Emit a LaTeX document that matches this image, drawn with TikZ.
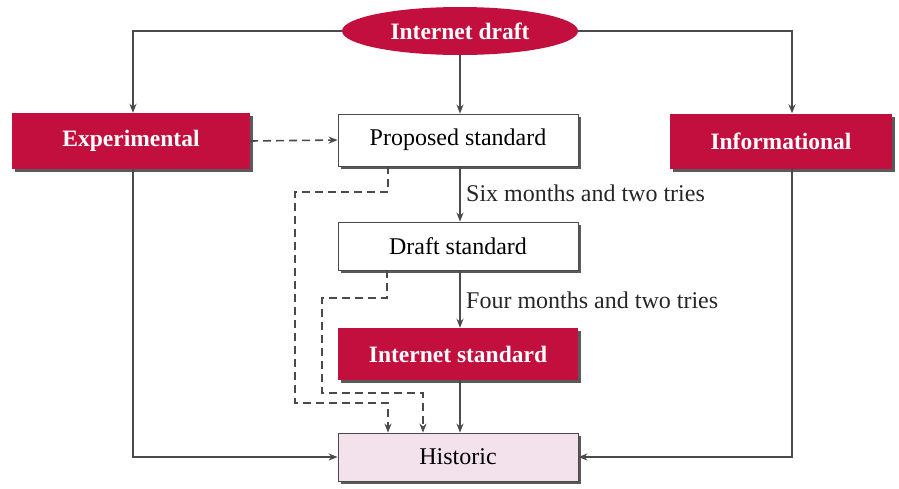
\documentclass[tikz,border=0pt]{standalone}
\usepackage{fontspec}
\setmainfont{Liberation Serif}
\usetikzlibrary{shapes.geometric,arrows.meta,shadows}
\definecolor{crim}{HTML}{C20F3E}
\definecolor{histfill}{HTML}{F3E2EC}
\definecolor{linegray}{HTML}{4A4A4A}
\definecolor{shade}{HTML}{5A5A5A}
\begin{document}
\begin{tikzpicture}[x=1pt,y=-1pt,
  txt/.style={font=\fontsize{24}{24}\selectfont},
  boxbase/.style={rectangle, minimum width=240pt, inner sep=0pt,
    drop shadow={shadow xshift=3pt, shadow yshift=-3pt, fill=shade, opacity=1}},
  redbox/.style={boxbase, fill=crim, text=white, font=\fontsize{23.5}{23.5}\selectfont\bfseries},
  whitebox/.style={boxbase, draw=linegray, line width=0.8pt, fill=white, txt},
  histbox/.style={boxbase, draw=linegray, line width=0.8pt, fill=histfill, txt},
  conn/.style={draw=linegray, line width=1.6pt, -{Stealth[length=9pt,width=7pt]}},
  dconn/.style={conn, dash pattern=on 8pt off 5pt},
  lbl/.style={txt, anchor=west, inner sep=0pt, text=black!85}]
\useasboundingbox (0,0) rectangle (899,488);

% top-level document
\node[ellipse, fill=crim, text=white, minimum width=236pt, minimum height=48pt, inner sep=0pt,
  font=\fontsize{23.5}{23.5}\selectfont\bfseries] (draft) at (460,31) {Internet draft};

% side tracks
\node[redbox, minimum width=238pt, minimum height=56pt] (exper) at (131,141) {Experimental};
\node[redbox, minimum width=222pt, minimum height=55pt] (info) at (781,141) {Informational};

% standards track
\node[whitebox, minimum height=52pt] (prop) at (458,140) {Proposed standard};
\node[whitebox, minimum height=48pt] (dstd) at (458,246) {Draft standard};
\node[redbox, minimum height=52pt] (istd) at (458,354) {Internet standard};
\node[histbox, minimum height=48pt] (hist) at (458,457) {Historic};

% maturity labels
\node[lbl] (l1) at (466,193) {Six months and two tries};
\node[lbl] (l2) at (466,300) {Four months and two tries};

% main flow
\draw[conn] (draft.south) -- (draft.south |- prop.north);
\draw[conn] (draft.south |- prop.south) -- (draft.south |- dstd.north);
\draw[conn] (draft.south |- dstd.south) -- (draft.south |- istd.north);
\draw[conn] (draft.south |- istd.south) -- (draft.south |- hist.north);

% branches from the draft
\draw[conn] (draft.west) -| ([xshift=2pt]exper.north);
\draw[conn] (draft.east) -| ([xshift=11pt]info.north);

% retirement paths
\draw[conn] ([xshift=2pt]exper.south) |- (hist.west);
\draw[conn] ([xshift=11pt]info.south) |- (hist.east);

% experimental may be promoted
\draw[dconn] (exper.east) -- (prop.west);

% dashed fall-backs to historic
\coordinate (a1) at (388,192);
\coordinate (a2) at (295,192);
\coordinate (a3) at (295,403);
\draw[dconn] ([xshift=-70pt]prop.south) -- (a1) -- (a2) -- (a3) -| ([xshift=-70pt]hist.north);
\coordinate (b1) at (387,298);
\coordinate (b2) at (322,298);
\coordinate (b3) at (322,393);
\draw[dconn] ([xshift=-71pt]dstd.south) -- (b1) -- (b2) -- (b3) -| ([xshift=-35pt]hist.north);
\end{tikzpicture}
\end{document}
